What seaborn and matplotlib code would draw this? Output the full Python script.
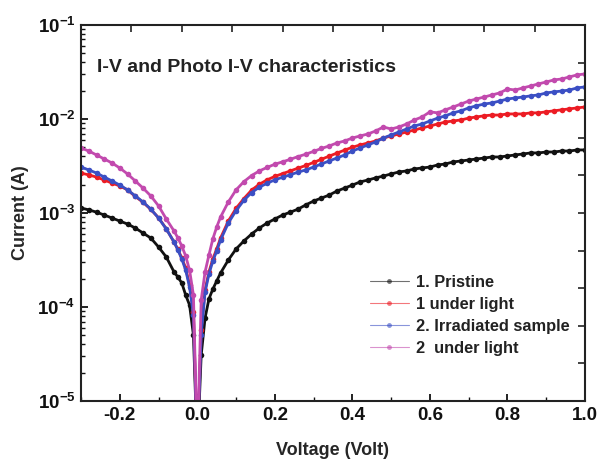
import matplotlib
matplotlib.use("Agg")
import matplotlib.pyplot as plt
import seaborn as sns
import pandas as pd
import numpy as np
from matplotlib.ticker import FixedLocator, LogLocator, NullFormatter, FuncFormatter, MultipleLocator
from matplotlib.lines import Line2D

voltage = [-0.30, -0.28, -0.26, -0.24, -0.22, -0.20, -0.18, -0.16, -0.14, -0.12, -0.10, -0.08, -0.06,
           -0.05, -0.04, -0.03, -0.02, -0.01, 0.00, 0.01, 0.02, 0.03, 0.04, 0.05, 0.06,
           0.08, 0.10, 0.12, 0.14, 0.16, 0.18, 0.20, 0.22, 0.24, 0.26,
           0.28, 0.30, 0.32, 0.34, 0.36, 0.38, 0.40, 0.42, 0.44, 0.46,
           0.48, 0.50, 0.52, 0.54, 0.56, 0.58, 0.60, 0.62, 0.64, 0.66,
           0.68, 0.70, 0.72, 0.74, 0.76, 0.78, 0.80, 0.82, 0.84, 0.86,
           0.88, 0.90, 0.92, 0.94, 0.96, 0.98, 1.00]

pristine = [1.13e-3, 1.08e-3, 1.02e-3, 9.51e-4, 8.84e-4, 8.21e-4, 7.63e-4, 6.92e-4, 6.12e-4, 5.42e-4, 4.35e-4, 3.40e-4, 2.36e-4,
            2.08e-4, 1.80e-4, 1.34e-4, 1.05e-4, 5.03e-5, 3e-6, 3.08e-5, 7.63e-5, 1.22e-4, 1.55e-4, 1.89e-4, 2.30e-4,
            3.16e-4, 4.14e-4, 5.03e-4, 5.97e-4, 6.92e-4, 7.82e-4, 8.63e-4, 9.51e-4, 1.02e-3, 1.10e-3,
            1.22e-3, 1.34e-3, 1.44e-3, 1.55e-3, 1.71e-3, 1.84e-3, 1.98e-3, 2.14e-3, 2.24e-3, 2.36e-3,
            2.47e-3, 2.60e-3, 2.73e-3, 2.80e-3, 2.94e-3, 3.01e-3, 3.08e-3, 3.24e-3, 3.32e-3, 3.49e-3,
            3.57e-3, 3.66e-3, 3.75e-3, 3.84e-3, 3.94e-3, 3.94e-3, 4.04e-3, 4.14e-3, 4.24e-3, 4.35e-3,
            4.35e-3, 4.45e-3, 4.45e-3, 4.56e-3, 4.56e-3, 4.68e-3, 4.68e-3]

under_light_1 = [2.66e-3, 2.54e-3, 2.41e-3, 2.24e-3, 2.08e-3, 1.94e-3, 1.76e-3, 1.50e-3, 1.30e-3, 1.09e-3, 8.9e-4, 6.8e-4, 4.9e-4,
                 4.1e-4, 3.32e-4, 2.60e-4, 1.71e-4, 8.84e-5, 3e-6, 5.69e-5, 1.52e-4, 2.36e-4, 3.24e-4, 4.14e-4, 5.42e-4,
                 8.21e-4, 1.12e-3, 1.42e-3, 1.75e-3, 2.02e-3, 2.25e-3, 2.45e-3, 2.62e-3, 2.80e-3, 3.00e-3,
                 3.20e-3, 3.45e-3, 3.72e-3, 4.02e-3, 4.33e-3, 4.66e-3, 5.00e-3, 5.29e-3, 5.55e-3, 5.83e-3,
                 6.27e-3, 6.59e-3, 6.92e-3, 7.27e-3, 7.63e-3, 8.02e-3, 8.42e-3, 8.84e-3, 9.28e-3, 9.51e-3,
                 9.76e-3, 1.02e-2, 1.05e-2, 1.08e-2, 1.10e-2, 1.10e-2, 1.13e-2, 1.13e-2, 1.13e-2, 1.16e-2,
                 1.16e-2, 1.19e-2, 1.22e-2, 1.25e-2, 1.28e-2, 1.31e-2, 1.34e-2]

irradiated = [3.08e-3, 2.87e-3, 2.66e-3, 2.41e-3, 2.19e-3, 1.98e-3, 1.76e-3, 1.52e-3, 1.31e-3, 1.10e-3, 8.84e-4, 6.75e-4, 4.91e-4,
              4.04e-4, 3.24e-4, 2.47e-4, 1.63e-4, 8.21e-5, 3e-6, 5.03e-5, 1.44e-4, 2.24e-4, 3.08e-4, 3.94e-4, 5.16e-4,
              7.82e-4, 1.06e-3, 1.36e-3, 1.65e-3, 1.88e-3, 2.07e-3, 2.25e-3, 2.40e-3, 2.55e-3, 2.72e-3,
              2.87e-3, 3.08e-3, 3.32e-3, 3.57e-3, 3.84e-3, 4.14e-3, 4.56e-3, 4.91e-3, 5.29e-3, 5.69e-3,
              6.27e-3, 6.75e-3, 7.27e-3, 7.82e-3, 8.42e-3, 8.84e-3, 9.51e-3, 1.02e-2, 1.08e-2, 1.16e-2,
              1.22e-2, 1.31e-2, 1.38e-2, 1.44e-2, 1.48e-2, 1.55e-2, 1.63e-2, 1.67e-2, 1.71e-2, 1.76e-2,
              1.80e-2, 1.89e-2, 1.94e-2, 1.98e-2, 2.03e-2, 2.14e-2, 2.19e-2]

under_light_2 = [4.91e-3, 4.56e-3, 4.14e-3, 3.75e-3, 3.40e-3, 3.01e-3, 2.60e-3, 2.19e-3, 1.84e-3, 1.52e-3, 1.19e-3, 8.63e-4, 6.43e-4,
                 5.42e-4, 4.45e-4, 3.49e-4, 2.47e-4, 1.34e-4, 3e-6, 1.19e-4, 2.36e-4, 3.57e-4, 5.29e-4, 7.09e-4, 9.06e-4,
                 1.31e-3, 1.76e-3, 2.15e-3, 2.50e-3, 2.80e-3, 3.05e-3, 3.30e-3, 3.50e-3, 3.72e-3, 3.98e-3,
                 4.22e-3, 4.52e-3, 4.85e-3, 5.16e-3, 5.55e-3, 5.83e-3, 6.27e-3, 6.59e-3, 6.92e-3, 7.45e-3,
                 8.21e-3, 7.82e-3, 8.21e-3, 8.84e-3, 9.76e-3, 1.05e-2, 1.19e-2, 1.16e-2, 1.25e-2, 1.34e-2,
                 1.44e-2, 1.55e-2, 1.63e-2, 1.71e-2, 1.80e-2, 1.89e-2, 2.08e-2, 2.03e-2, 2.14e-2, 2.24e-2,
                 2.36e-2, 2.47e-2, 2.60e-2, 2.66e-2, 2.80e-2, 2.94e-2, 3.01e-2]

series_names = ["1. Pristine", "1 under light", "2. Irradiated sample", "2  under light"]
series_values = [pristine, under_light_1, irradiated, under_light_2]
colors = ["#111111", "#ec1c24", "#3b4fc4", "#c24aae"]
x_tick_labels = ["-0.2", "0.0", "0.2", "0.4", "0.6", "0.8", "1.0"]

sns.set_theme(style="white")
plt.rcParams["font.family"] = ["Liberation Sans", "DejaVu Sans"]
plt.rcParams["font.weight"] = "bold"
plt.rcParams["mathtext.fontset"] = "custom"
plt.rcParams["mathtext.bf"] = "Liberation Sans:bold"
plt.rcParams["mathtext.rm"] = "Liberation Sans:bold"
plt.rcParams["mathtext.default"] = "bf"

frames = []
for name, vals in zip(series_names, series_values):
    frames.append(pd.DataFrame({"Voltage": voltage, "Current": vals, "Series": name}))
df = pd.concat(frames, ignore_index=True)

fig = plt.figure(figsize=(6.0, 4.61), dpi=100)
ax = fig.add_axes([0.135, 0.130, 0.840, 0.816])

sns.lineplot(data=df, x="Voltage", y="Current", hue="Series", hue_order=series_names,
             palette=colors, marker="o", markersize=4.0, markeredgewidth=0,
             linewidth=2.0, estimator=None, sort=False, ax=ax, legend=False)

ax.set_yscale("log")
ax.set_xlim(-0.3, 1.0)
ax.set_ylim(1e-5, 1e-1)

ax.xaxis.set_major_locator(FixedLocator([-0.2, 0.0, 0.2, 0.4, 0.6, 0.8, 1.0]))
ax.set_xticklabels(x_tick_labels)
ax.xaxis.set_minor_locator(MultipleLocator(0.1))
ax.yaxis.set_major_locator(LogLocator(base=10, numticks=10))
ax.yaxis.set_minor_locator(LogLocator(base=10, subs=tuple(range(2, 10)), numticks=12))
ax.yaxis.set_minor_formatter(NullFormatter())
ax.yaxis.set_major_formatter(FuncFormatter(lambda v, p: r"$10^{%d}$" % int(round(np.log10(v)))))

ax.tick_params(axis="both", which="both", bottom=True, left=True, top=False, right=False)
ax.tick_params(axis="both", which="major", direction="in", length=5, width=1.3,
               labelsize=13.5, colors="#111111", pad=4)
ax.tick_params(axis="both", which="minor", direction="in", length=3, width=1.0, colors="#111111")
for lab in ax.get_xticklabels() + ax.get_yticklabels():
    lab.set_fontweight("bold")

for s in ax.spines.values():
    s.set_color("#222222")
    s.set_linewidth(1.5)

ax.set_xlabel("Voltage (Volt)", fontsize=13, fontweight="bold", labelpad=13)
ax.set_ylabel("Current (A)", fontsize=13, fontweight="bold", labelpad=6)

ax.text(0.032, 0.888, "I-V and Photo I-V characteristics", transform=ax.transAxes,
        fontsize=14, fontweight="bold", va="center", ha="left", color="#222222")

# tick marks on the top and right frame
ax2 = fig.add_axes(ax.get_position(), frameon=False)
ax2.set_xlim(0, 10)
ax2.set_ylim(0, 10)
ax2.set_xticks(np.arange(1, 10))
ax2.set_yticks(np.arange(1, 10))
ax2.tick_params(direction="in", length=5, width=1.2, bottom=False, left=False,
                top=True, right=True, labelbottom=False, labelleft=False,
                labeltop=False, labelright=False, colors="#222222")
ax2.patch.set_visible(False)

handles = [Line2D([0], [0], color=c, lw=0.8, alpha=0.6, marker="o", markersize=3.5,
                  markerfacecolor=c, markeredgewidth=0) for c in colors]
leg = ax.legend(handles, series_names, loc="upper left", bbox_to_anchor=(0.56, 0.352),
                frameon=False, fontsize=11.8, handlelength=2.4, handletextpad=0.4,
                labelspacing=0.42, borderaxespad=0)
for t in leg.get_texts():
    t.set_fontweight("bold")
    t.set_color("#222222")

fig.savefig("out.png", dpi=100)
